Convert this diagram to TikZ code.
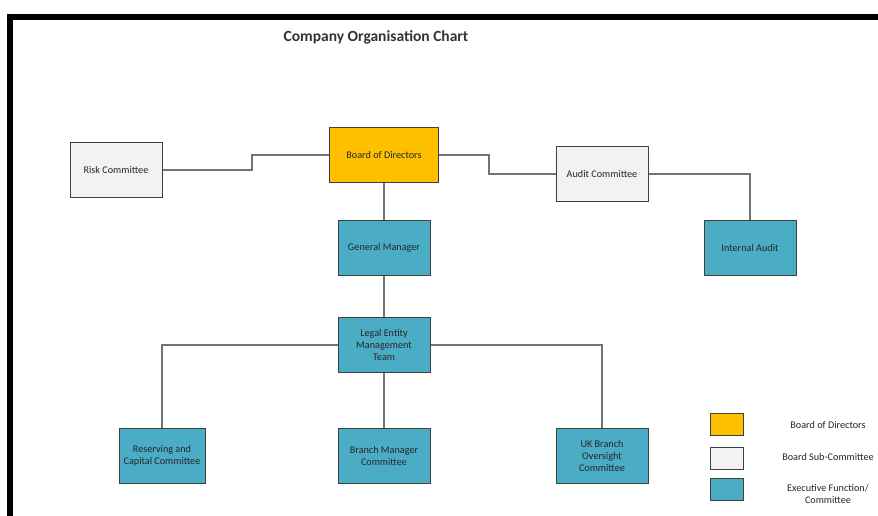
\documentclass[tikz,border=0pt]{standalone}
\usepackage{fontspec}
\setmainfont{Carlito}
\usetikzlibrary{calc}
\definecolor{boardcol}{HTML}{FFC000}
\definecolor{subcol}{HTML}{F2F2F2}
\definecolor{execcol}{HTML}{4BACC6}

\begin{document}
\begin{tikzpicture}[x=1pt,y=-1pt,
	box/.style={rectangle,draw=black!75,line width=1pt,minimum width=92,minimum height=55,
		align=center,font=\fontsize{10.2}{12}\selectfont,text=black!85},
	board/.style={box,fill=boardcol},
	sub/.style={box,fill=subcol},
	exec/.style={box,fill=execcol},
	link/.style={draw=black!55,line width=1.2pt},
	key/.style={rectangle,draw=black!75,line width=1pt,minimum width=33,minimum height=22},
	keytext/.style={align=center,font=\fontsize{10.2}{12}\selectfont,text=black!85}]
	\useasboundingbox (0,0) rectangle (878,516);
	\draw[line width=6pt] (10,516) -- (10,17) -- (878,17);
	\node[font=\bfseries\fontsize{15.5}{18}\selectfont,text=black!80] (title) at (376,37) {Company Organisation Chart};
	\node[board,minimum width=109] (bod) at (384,155) {Board of Directors};
	\node[sub] (risk) at (116,170) {Risk Committee};
	\node[sub] (audit) at (602,174) {Audit Committee};
	\node[exec] (ia) at (750,248) {Internal Audit};
	\node[exec] (gm) at (384,248) {General Manager};
	\node[exec] (lemt) at (384,345) {Legal Entity\\Management\\Team};
	\node[exec,minimum width=86] (res) at (162,456) {Reserving and\\Capital Committee};
	\node[exec] (bmc) at (384,456) {Branch Manager\\Committee};
	\node[exec] (uk) at (602,456) {UK Branch\\Oversight\\Committee};
	\draw[link] (risk.east) -- (252,170) -- (252,155) -- (bod.west);
	\draw[link] (bod.east) -- (489,155) |- (audit.west);
	\draw[link] (audit.east) -| (ia.north);
	\draw[link] (bod) -- (gm);
	\draw[link] (gm) -- (lemt);
	\draw[link] (lemt) -- (bmc);
	\draw[link] (lemt.west) -| (res.north);
	\draw[link] (lemt.east) -| (uk.north);
	\node[key,fill=boardcol] (k1) at (727,424) {};
	\node[key,fill=subcol] (k2) at (727,458) {};
	\node[key,fill=execcol] (k3) at (727,489) {};
	\node[keytext] (t1) at (828,425) {Board of Directors};
	\node[keytext] (t2) at (828,457) {Board Sub-Committee};
	\node[keytext] (t3) at (828,494) {Executive Function/\\Committee};
\end{tikzpicture}
\end{document}
